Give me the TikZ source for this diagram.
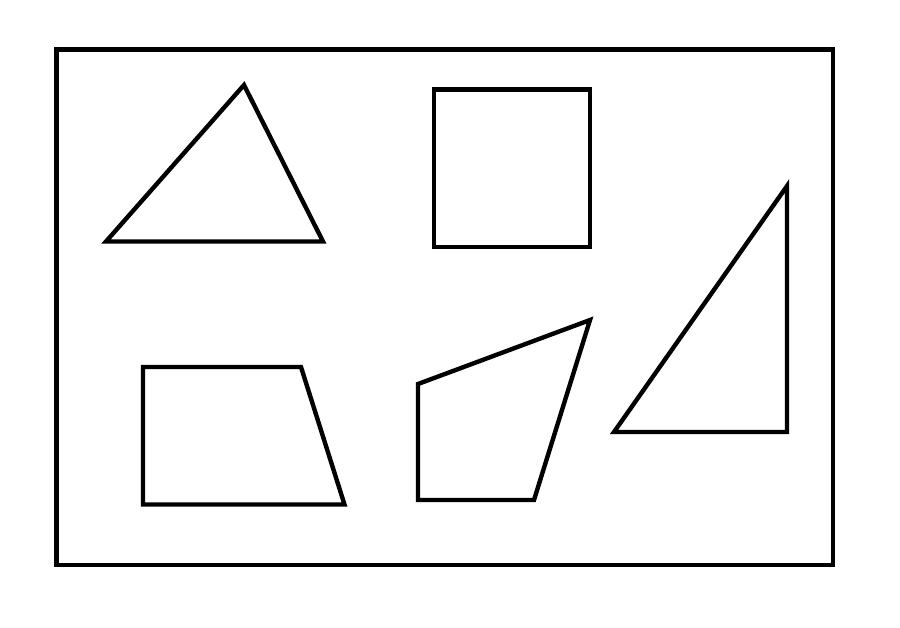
\documentclass[tikz,border=0pt]{standalone}
\usepackage{tikz}
\tikzset{
    px/.style = {
        x=0.02cm,
        y=-0.02cm
    },
    frame/.style = {
        draw,
        line width=2.8pt
    },
    figure/.style = {
        draw,
        line width=2.5pt
    },
}

\begin{document}
\begin{tikzpicture}[px]
        \useasboundingbox (0,0) rectangle (900,627);
        \draw[frame] (56.5,49.5) rectangle (833,565);

        \draw[figure] (106,241.5) -- (244,85) -- (323,241.5) -- cycle;
        \draw[figure] (434,89.5) rectangle (590,247);
        \draw[figure] (614,432) -- (787,186) -- (787,432) -- cycle;
        \draw[figure] (143,367) -- (301,367) -- (344.5,504.5) -- (143,504.5) -- cycle;
        \draw[figure] (418,384) -- (590,320) -- (534,500) -- (418,500) -- cycle;
    \end{tikzpicture}
\end{document}
